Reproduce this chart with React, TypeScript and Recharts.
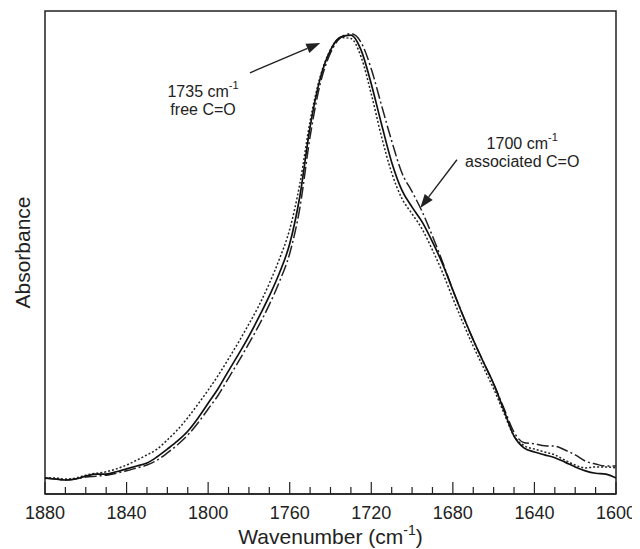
import React from 'react';
import {
  LineChart, Line, XAxis, YAxis, ReferenceArea, ReferenceLine, ReferenceDot,
} from 'recharts';

const FONT = '"Liberation Sans", Arial, sans-serif';

// wavenumber grid (cm-1), 5 cm-1 steps
const wavenumbers = [
  1880, 1875, 1870, 1865, 1860, 1855, 1850, 1845, 1840, 1835,
  1830, 1825, 1820, 1815, 1810, 1805, 1800, 1795, 1790, 1785,
  1780, 1775, 1770, 1765, 1760, 1755, 1750, 1745, 1740, 1735,
  1730, 1725, 1720, 1715, 1710, 1705, 1700, 1695, 1690, 1685,
  1680, 1675, 1670, 1665, 1660, 1655, 1650, 1645, 1640, 1635,
  1630, 1625, 1620, 1615, 1610, 1605, 1600,
];

const solid = [
  0.033, 0.031, 0.029, 0.031, 0.037, 0.041, 0.041, 0.046, 0.052, 0.058,
  0.064, 0.077, 0.093, 0.110, 0.130, 0.157, 0.188, 0.219, 0.255, 0.290,
  0.327, 0.367, 0.410, 0.458, 0.518, 0.617, 0.760, 0.861, 0.919, 0.946,
  0.950, 0.919, 0.849, 0.766, 0.687, 0.629, 0.594, 0.563, 0.522, 0.476,
  0.422, 0.369, 0.319, 0.273, 0.228, 0.174, 0.120, 0.095, 0.087, 0.081,
  0.075, 0.066, 0.056, 0.048, 0.043, 0.041, 0.033,
];

const dotted = [
  0.033, 0.033, 0.031, 0.033, 0.039, 0.043, 0.046, 0.052, 0.060, 0.070,
  0.081, 0.093, 0.112, 0.133, 0.158, 0.186, 0.215, 0.246, 0.280, 0.315,
  0.352, 0.391, 0.436, 0.487, 0.548, 0.643, 0.772, 0.865, 0.920, 0.945,
  0.943, 0.905, 0.828, 0.740, 0.665, 0.612, 0.580, 0.548, 0.505, 0.458,
  0.405, 0.354, 0.306, 0.262, 0.218, 0.168, 0.120, 0.100, 0.093, 0.087,
  0.081, 0.070, 0.060, 0.054, 0.056, 0.056, 0.054,
];

const dashDot = [
  0.033, 0.031, 0.029, 0.031, 0.035, 0.037, 0.039, 0.043, 0.048, 0.054,
  0.060, 0.070, 0.085, 0.102, 0.122, 0.147, 0.176, 0.205, 0.240, 0.275,
  0.312, 0.350, 0.392, 0.440, 0.498, 0.593, 0.740, 0.850, 0.913, 0.945,
  0.953, 0.935, 0.880, 0.805, 0.731, 0.665, 0.626, 0.584, 0.534, 0.480,
  0.422, 0.369, 0.319, 0.273, 0.228, 0.178, 0.128, 0.106, 0.104, 0.100,
  0.099, 0.091, 0.081, 0.068, 0.062, 0.058, 0.058,
];

const tickValues = wavenumbers.filter((w) => w % 10 === 0);

const data = wavenumbers.map((w, i) => ({
  w, solid: solid[i], dotted: dotted[i], dashDot: dashDot[i],
}));

const AxisTick = (props: any) => {
  const { x, y, payload } = props;
  const major = (payload.value - 1600) % 40 === 0;
  return (
    <g>
      <line x1={x} x2={x} y1={y} y2={y - (major ? 12 : 7)} stroke="#222" strokeWidth={1.2} />
      {major && (
        <text x={x} y={y + 25} textAnchor="middle" fontSize={18} fontFamily={FONT} fill="#222">
          {payload.value}
        </text>
      )}
    </g>
  );
};

const Arrow = (props: any) => {
  const { x1, y1, x2, y2 } = props;
  const ang = Math.atan2(y2 - y1, x2 - x1);
  const len = 14;
  const half = 5;
  const bx = x2 - len * Math.cos(ang);
  const by = y2 - len * Math.sin(ang);
  const px = -Math.sin(ang) * half;
  const py = Math.cos(ang) * half;
  return (
    <g>
      <line x1={x1} y1={y1} x2={bx} y2={by} stroke="#222" strokeWidth={1.4} />
      <polygon points={`${x2},${y2} ${bx + px},${by + py} ${bx - px},${by - py}`} fill="#222" />
    </g>
  );
};

const noteLabel = (line1: string, line2: string) => (props: any) => {
  const { viewBox } = props;
  const cx = viewBox.x + viewBox.width / 2;
  const cy = viewBox.y + viewBox.height / 2;
  return (
    <g fontFamily={FONT} fill="#222" fontSize={16}>
      <text x={cx} y={cy - 3} textAnchor="middle">
        <tspan>{line1}</tspan>
        <tspan dy={-8} fontSize={11}>-1</tspan>
      </text>
      <text x={cx} y={cy + 15} textAnchor="middle">{line2}</text>
    </g>
  );
};

const YTitle = (props: any) => {
  const { viewBox } = props;
  const cx = viewBox.x + 14;
  const cy = viewBox.y + viewBox.height / 2;
  return (
    <text x={cx} y={cy} transform={`rotate(-90 ${cx} ${cy})`} textAnchor="middle"
      dominantBaseline="central" fontSize={21} fontFamily={FONT} fill="#222">
      Absorbance
    </text>
  );
};

const XTitle = (props: any) => {
  const { viewBox } = props;
  const cx = viewBox.x + viewBox.width / 2;
  const y = viewBox.y + 50;
  return (
    <text x={cx} y={y} textAnchor="middle" fontSize={21} fontFamily={FONT} fill="#222">
      <tspan>Wavenumber (cm</tspan>
      <tspan dy={-9} fontSize={14}>-1</tspan>
      <tspan dy={9}>)</tspan>
    </text>
  );
};

export default function App() {
  return (
    <LineChart width={632} height={541} data={data} margin={{ top: 3, right: 24, left: 0, bottom: 0 }}>
      <XAxis
        dataKey="w" type="number" domain={[1600, 1880]} reversed ticks={tickValues}
        interval={0} tickSize={0} tickMargin={0} tickLine={false}
        axisLine={{ stroke: '#222', strokeWidth: 1.5 }} tick={<AxisTick />}
        height={55} label={<XTitle />}
      />
      <YAxis
        type="number" domain={[0, 1]} width={37} tick={false} tickLine={false}
        axisLine={false} label={<YTitle />}
      />
      <ReferenceArea x1={1880} x2={1600} y1={0} y2={1} fill="none" stroke="#222" strokeWidth={1.5} ifOverflow="visible" />
      <Line type="monotone" dataKey="dotted" stroke="#222" strokeWidth={1.5} strokeDasharray="2 2" dot={false} isAnimationActive={false} />
      <Line type="monotone" dataKey="dashDot" stroke="#222" strokeWidth={1.5} strokeDasharray="12 3 2 3" dot={false} isAnimationActive={false} />
      <Line type="monotone" dataKey="solid" stroke="#111" strokeWidth={1.7} dot={false} isAnimationActive={false} />
      <ReferenceLine segment={[{ x: 1779.5, y: 0.872 }, { x: 1745, y: 0.934 }]} ifOverflow="visible" shape={<Arrow />} />
      <ReferenceLine segment={[{ x: 1678, y: 0.692 }, { x: 1696, y: 0.592 }]} ifOverflow="visible" shape={<Arrow />} />
      <ReferenceDot x={1802.5} y={0.816} r={1} fill="none" stroke="none" ifOverflow="visible"
        label={noteLabel('1735 cm', 'free C=O')} />
      <ReferenceDot x={1646} y={0.708} r={1} fill="none" stroke="none" ifOverflow="visible"
        label={noteLabel('1700 cm', 'associated C=O')} />
    </LineChart>
  );
}
